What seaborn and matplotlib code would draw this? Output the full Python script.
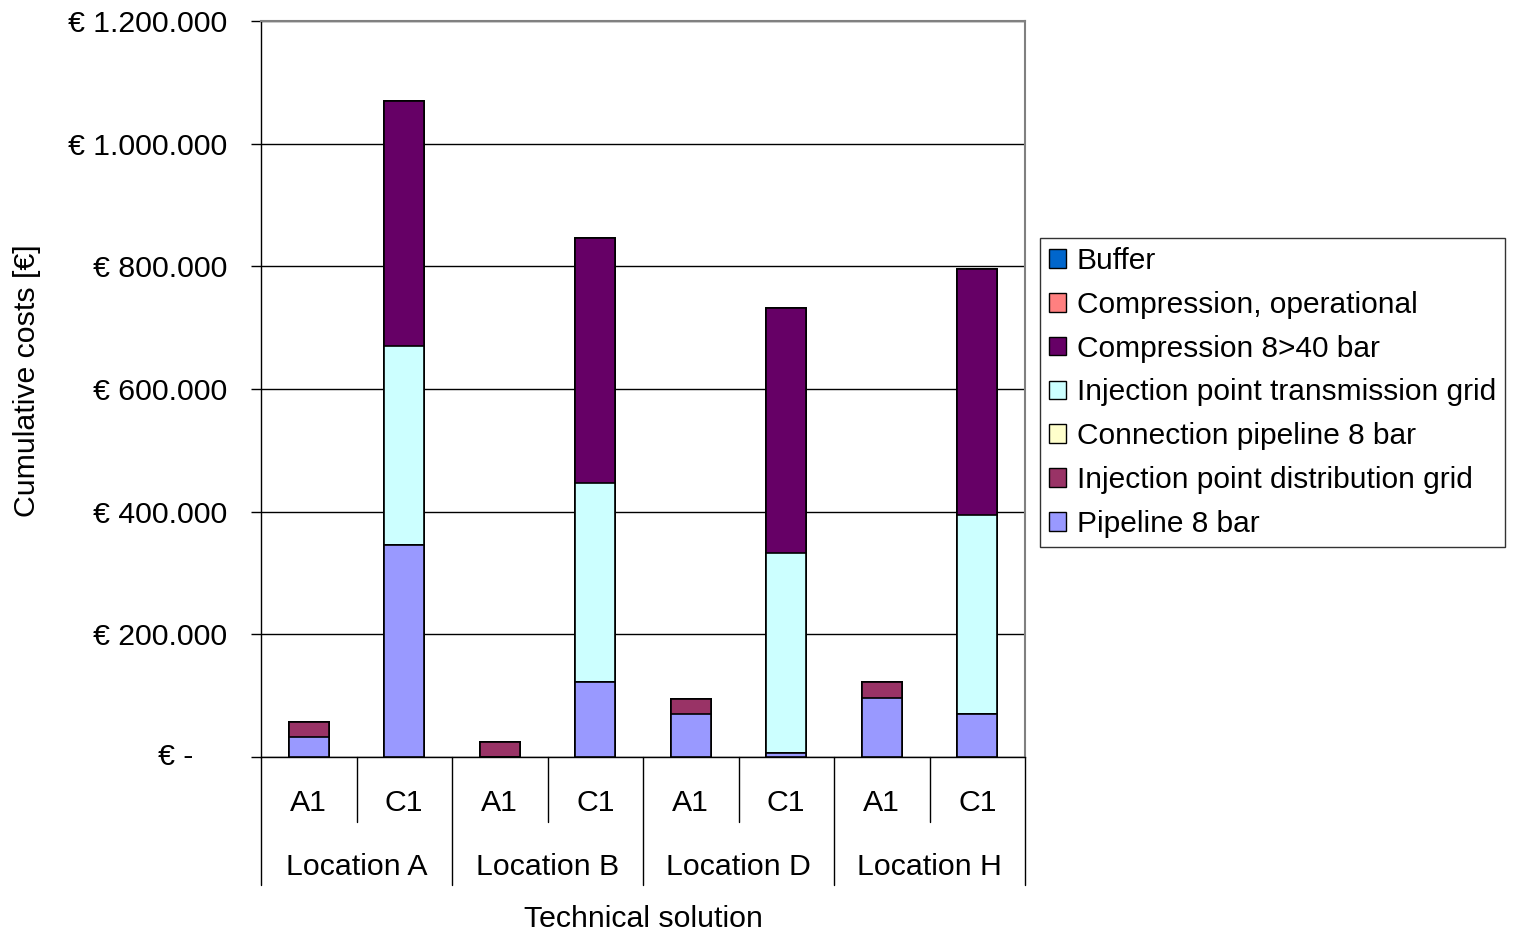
import numpy as np
import pandas as pd
import matplotlib
matplotlib.use("Agg")
import matplotlib.pyplot as plt
import matplotlib.transforms as mtransforms
from matplotlib.patches import Patch
import seaborn as sns

# ---- data -------------------------------------------------------------
locations = ["Location A", "Location B", "Location D", "Location H"]
solutions = ["A1", "C1"]

# one value per bar: A-A1, A-C1, B-A1, B-C1, D-A1, D-C1, H-A1, H-C1
pipeline_8bar = [32000, 345000, 0, 122000, 70000, 7000, 97000, 70000]
inj_distribution = [25000, 0, 25000, 0, 25000, 0, 25000, 0]
connection_pipeline = [0, 0, 0, 0, 0, 0, 0, 0]
inj_transmission = [0, 325000, 0, 325000, 0, 325000, 0, 325000]
compression_8_40 = [0, 400000, 0, 400000, 0, 400000, 0, 400000]
compression_oper = [0, 0, 0, 0, 0, 0, 0, 0]
buffer = [0, 0, 0, 0, 0, 0, 0, 0]

# stacking order, bottom to top
stack_names = ["Pipeline 8 bar", "Injection point distribution grid",
               "Connection pipeline 8 bar", "Injection point transmission grid",
               "Compression 8>40 bar", "Compression, operational", "Buffer"]
stack_values = [pipeline_8bar, inj_distribution, connection_pipeline,
                inj_transmission, compression_8_40, compression_oper, buffer]
stack_colors = ["#9999FF", "#993366", "#FFFFCC", "#CCFFFF",
                "#660066", "#FF8080", "#0066CC"]

y_ticks = [0, 200000, 400000, 600000, 800000, 1000000, 1200000]

# ---- style ------------------------------------------------------------
sns.set_style("white")
plt.rcParams["font.family"] = ["Liberation Sans", "DejaVu Sans"]
plt.rcParams["text.color"] = "black"
plt.rcParams["axes.labelcolor"] = "black"
plt.rcParams["ytick.color"] = "black"
plt.rcParams["xtick.color"] = "black"
FS = 21.8

bar_keys = [f"{loc}|{sol}" for loc in locations for sol in solutions]
df = pd.DataFrame({"bar": bar_keys})
for name, vals in zip(stack_names, stack_values):
    df[name] = vals
cum = df[stack_names].cumsum(axis=1)

fig = plt.figure(figsize=(15.13, 9.35), dpi=100)
ax = fig.add_axes([261 / 1513, 1 - 757 / 935, (1025 - 261) / 1513, (757 - 21) / 935])

# stacked bars: draw cumulative totals from the top layer downwards
for name, col in reversed(list(zip(stack_names, stack_colors))):
    sns.barplot(x=df["bar"], y=cum[name], order=bar_keys, color=col,
                saturation=1, width=0.42, edgecolor="black", linewidth=1.2,
                ax=ax, zorder=3)

ax.set_xlim(-0.5, len(bar_keys) - 0.5)
ax.set_ylim(0, 1200000)
ax.set_xlabel("")
ax.set_ylabel("")
ax.set_xticks([])

ax.set_yticks(y_ticks)
ax.set_yticklabels([("€ " + f"{v:,.0f}".replace(",", ".")) if v else "" for v in y_ticks])
ax.tick_params(axis="y", direction="out", length=7.2, width=1, pad=17,
               labelsize=FS, colors="black", left=True)
ax.yaxis.grid(True, color="black", linewidth=1)
ax.set_axisbelow(True)

for s in ["left", "bottom"]:
    ax.spines[s].set_color("black")
    ax.spines[s].set_linewidth(1)
for s in ["top", "right"]:
    ax.spines[s].set_color("#808080")
    ax.spines[s].set_linewidth(1.5)

# zero label in accounting style
ax.annotate("€ -", xy=(0, 0), xycoords=("axes fraction", "data"),
            xytext=(-49, 0), textcoords="offset points",
            ha="right", va="center", fontsize=FS)

# two-level category axis
trans = mtransforms.blended_transform_factory(ax.transData, ax.transAxes)
for i, key in enumerate(bar_keys):
    ax.text(i, -0.0625, key.split("|")[1], transform=trans,
            ha="center", va="center", fontsize=FS)
for g, loc in enumerate(locations):
    ax.text(2 * g + 0.5, -0.1495, loc, transform=trans,
            ha="center", va="center", fontsize=FS)
    ax.plot([2 * g + 0.5, 2 * g + 0.5], [0, -0.0883], transform=trans,
            color="black", lw=1, clip_on=False)
for b in np.arange(-0.5, len(bar_keys), 2):
    ax.plot([b, b], [0, -0.174], transform=trans, color="black", lw=1,
            clip_on=False)

fig.text(643 / 1513, 1 - 919 / 935, "Technical solution", ha="center",
         va="center", fontsize=FS)
fig.text(27 / 1513, 1 - 381 / 935, "Cumulative costs [€]", ha="center",
         va="center", rotation=90, fontsize=FS)

# legend, listed top layer first
handles = [Patch(facecolor=c, edgecolor="black", linewidth=1)
           for c in reversed(stack_colors)]
leg = fig.legend(handles, list(reversed(stack_names)), loc="upper left",
                 bbox_to_anchor=(1040 / 1513, 1 - 238 / 935), fontsize=21.5,
                 frameon=True, fancybox=False, edgecolor="black",
                 borderaxespad=0, handlelength=0.58, handleheight=0.58,
                 handletextpad=0.35, labelspacing=0.53, borderpad=0.3)
leg.get_frame().set_linewidth(1)

fig.savefig("out.png", dpi=100, facecolor="white")
